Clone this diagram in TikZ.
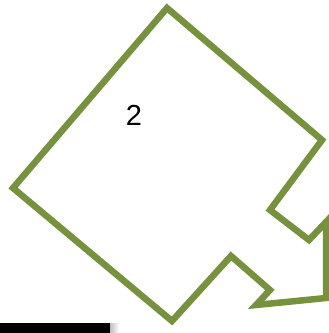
\documentclass[tikz,border=0pt]{standalone}
\usepackage{fontspec}
\setmainfont{Liberation Sans}
\usepackage{xcolor}
\usepackage{tikz}
\usetikzlibrary{calc}
\definecolor{olivegreen}{RGB}{118,146,60}

\begin{document}
\begin{tikzpicture}[x=1pt,y=-1pt,every node/.style={font=\fontsize{29}{34}\selectfont}]
\tikzstyle{outline}=[draw=olivegreen,line width=6.5pt,line join=miter]
\useasboundingbox (0,0) rectangle (329,333);
\begin{scope}
\clip (0,0) rectangle (329,333);
% arrow-shaped square
\draw[outline] (167,8) -- (322,140) -- (270,210) -- (309,240) -- (326,222)
  -- (326,298) -- (256,305) -- (270,290) -- (231,256) -- (172,321)
  -- (13,188) -- cycle;
% bar at the bottom
\fill[black] (0,323) rectangle (110,333);
\shade[left color=black!25,right color=white] (110,323) rectangle (119,333);
\end{scope}
\node (lbl) at (134,115) {2};
\end{tikzpicture}
\end{document}
